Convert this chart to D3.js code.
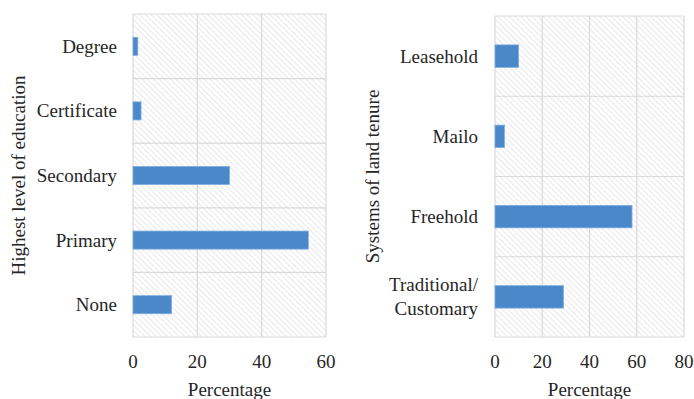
<!DOCTYPE html>
<html><head><meta charset="utf-8">
<script src="https://cdn.jsdelivr.net/npm/d3@7"></script>
<style>body{margin:0;background:#fff}svg{display:block}</style>
</head><body><svg id="c" width="694" height="399" font-family="'Liberation Serif', 'DejaVu Serif', serif"></svg>
<script>
const eduCats = ["Degree","Certificate","Secondary","Primary","None"];
const eduVals = [1.5, 2.5, 30, 54.5, 12];
const eduTicks = [0,20,40,60];
const tenureCats = ["Leasehold","Mailo","Freehold","Traditional/|Customary"];
const tenureVals = [10, 4, 58, 29];
const tenureTicks = [0,20,40,60,80];

const FONT = "'Liberation Serif', 'DejaVu Serif', serif";
const svg = d3.select("#c");
const defs = svg.append("defs");
const pat = defs.append("pattern").attr("id","hatch").attr("patternUnits","userSpaceOnUse")
  .attr("width",4).attr("height",4).attr("patternTransform","rotate(-45)");
pat.append("rect").attr("width",4).attr("height",4).attr("fill","#fff");
pat.append("line").attr("x1",0).attr("y1",0).attr("x2",0).attr("y2",4).attr("stroke","#dcdcdc").attr("stroke-width",1.3);

function txt(g){ return g.append("text").attr("font-family",FONT).attr("fill","#262626").attr("font-size",19); }

function panel(cats, vals, ticks, xr, yr, labelX, title, titleX){
  const x = d3.scaleLinear().domain([ticks[0], ticks[ticks.length-1]]).range(xr);
  const y = d3.scaleBand().domain(cats).range(yr).padding(0);
  const g = svg.append("g");
  g.append("rect").attr("x",xr[0]).attr("y",yr[0]).attr("width",xr[1]-xr[0]).attr("height",yr[1]-yr[0]).attr("fill","url(#hatch)");
  g.selectAll(".vg").data(ticks).enter().append("line")
    .attr("x1",d=>x(d)).attr("x2",d=>x(d)).attr("y1",yr[0]).attr("y2",yr[1])
    .attr("stroke","#d9d9d9").attr("stroke-width",1.2);
  const bounds = cats.map(c=>y(c)).concat([yr[1]]);
  g.selectAll(".hg").data(bounds).enter().append("line")
    .attr("x1",xr[0]).attr("x2",xr[1]).attr("y1",d=>d).attr("y2",d=>d)
    .attr("stroke","#d9d9d9").attr("stroke-width",1.2);
  const bh = y.bandwidth()*0.28;
  g.selectAll(".bar").data(cats).enter().append("rect")
    .attr("x",x(0)).attr("y",c=>y(c)+y.bandwidth()/2-bh/2)
    .attr("width",(c,i)=>x(vals[i])-x(0)).attr("height",bh)
    .attr("fill","#4a88c9").attr("stroke","#80aee0").attr("stroke-width",0.8);
  cats.forEach(c=>{
    const lines = c.split("|");
    const cy = y(c)+y.bandwidth()/2;
    lines.forEach((l,i)=>{
      txt(g).attr("x",labelX).attr("y",cy+(i-(lines.length-1)/2)*24)
        .attr("text-anchor","end").attr("dominant-baseline","central").text(l);
    });
  });
  ticks.forEach(d=>{
    txt(g).attr("x",x(d)).attr("y",368).attr("text-anchor","middle").text(d);
  });
  txt(g).attr("x",(xr[0]+xr[1])/2).attr("y",396).attr("text-anchor","middle").text("Percentage");
  txt(g).attr("transform",`translate(${titleX},${(yr[0]+yr[1])/2}) rotate(-90)`)
    .attr("text-anchor","middle").attr("dominant-baseline","central").text(title);
}
panel(eduCats, eduVals, eduTicks, [133,326], [14,337], 117, "Highest level of education", 18);
panel(tenureCats, tenureVals, tenureTicks, [495,684], [16,337], 478, "Systems of land tenure", 372);
</script></body></html>
